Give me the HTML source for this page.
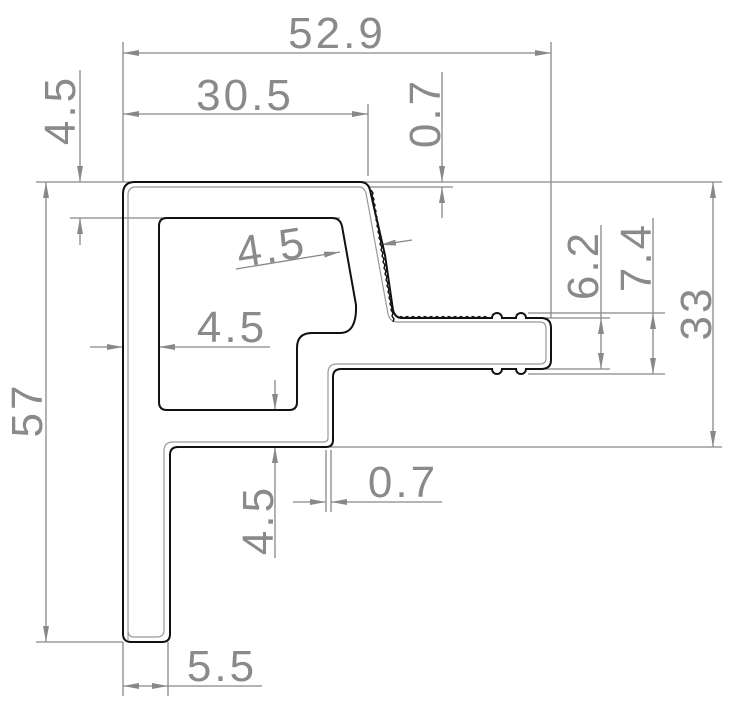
<!DOCTYPE html>
<html><head><meta charset="utf-8"><style>html,body{margin:0;padding:0;background:#fff}svg{display:block}</style></head>
<body>
<svg width="736" height="711" viewBox="0 0 736 711" xmlns="http://www.w3.org/2000/svg">
<defs>
<marker id="a" viewBox="0 0 16 6" refX="16" refY="3" markerWidth="16" markerHeight="6" markerUnits="userSpaceOnUse" orient="auto-start-reverse"><path d="M0,0 L16,3 L0,6 z" fill="#888"/></marker>
</defs>
<g stroke="#888" stroke-width="1.3" fill="none">
<line x1="123" y1="42" x2="123" y2="182"/>
<line x1="551" y1="42" x2="551" y2="318"/>
<line x1="368" y1="104" x2="368" y2="176"/>
<line x1="36" y1="182" x2="722" y2="182"/>
<line x1="70" y1="218" x2="340" y2="218"/>
<line x1="368" y1="187" x2="453" y2="187"/>
<line x1="36" y1="642" x2="123" y2="642"/>
<line x1="330" y1="447" x2="722" y2="447"/>
<line x1="528" y1="313" x2="665" y2="313"/>
<line x1="545" y1="318" x2="610" y2="318"/>
<line x1="545" y1="369" x2="610" y2="369"/>
<line x1="528" y1="374" x2="665" y2="374"/>
<line x1="123" y1="642" x2="123" y2="696"/>
<line x1="168" y1="642" x2="168" y2="696"/>
<line x1="326" y1="450" x2="326" y2="512"/>
<line x1="331" y1="450" x2="331" y2="512"/>
<line x1="123" y1="53" x2="551" y2="53" marker-start="url(#a)" marker-end="url(#a)"/>
<line x1="123" y1="114" x2="368" y2="114" marker-start="url(#a)" marker-end="url(#a)"/>
<line x1="80" y1="70" x2="80" y2="182" marker-end="url(#a)"/>
<line x1="80" y1="245" x2="80" y2="218" marker-end="url(#a)"/>
<line x1="442" y1="72" x2="442" y2="182" marker-end="url(#a)"/>
<line x1="442" y1="218" x2="442" y2="187" marker-end="url(#a)"/>
<line x1="46" y1="182" x2="46" y2="642" marker-start="url(#a)" marker-end="url(#a)"/>
<line x1="713" y1="182" x2="713" y2="447" marker-start="url(#a)" marker-end="url(#a)"/>
<line x1="601" y1="225" x2="601" y2="318"/>
<line x1="601" y1="318" x2="601" y2="369" marker-start="url(#a)" marker-end="url(#a)"/>
<line x1="653" y1="218" x2="653" y2="313"/>
<line x1="653" y1="313" x2="653" y2="374" marker-start="url(#a)" marker-end="url(#a)"/>
<line x1="90" y1="347" x2="123" y2="347" marker-end="url(#a)"/>
<line x1="270" y1="347" x2="159" y2="347" marker-end="url(#a)"/>
<line x1="236" y1="269" x2="340" y2="252" marker-end="url(#a)"/>
<line x1="412" y1="240" x2="380" y2="245" marker-end="url(#a)"/>
<line x1="275" y1="380" x2="275" y2="410" marker-end="url(#a)"/>
<line x1="275" y1="558" x2="275" y2="447" marker-end="url(#a)"/>
<line x1="293" y1="502" x2="326" y2="502" marker-end="url(#a)"/>
<line x1="442" y1="502" x2="331" y2="502" marker-end="url(#a)"/>
<line x1="123" y1="686" x2="168" y2="686" marker-start="url(#a)" marker-end="url(#a)"/>
<line x1="168" y1="686" x2="262" y2="686"/>
</g>
<g fill="none" stroke="#999" stroke-width="1.2">
<path d="M128,640 L128,195 Q128,187 136,187 L359,187 Q364,187 366,193 L388,314 Q390,322 398,322 L540,322 Q546,322 546,329 L546,358 Q546,364 540,364 L337,364 Q328,364 328,373 L328,438 Q328,442 323,442 L173,442 Q164,442 164,451 L164,630 Q164,637 157,637 L134,637 Q128,637 128,630 Z"/>
</g>
<g fill="none" stroke="#111" stroke-width="2">
<path d="M123,630 L123,194 Q123,182 135,182 L360,182 Q368,182 370,190 L385,255 L393,310 Q395,318 402,318 L492,318 A4,4 0 0 1 502,318 L516,318 A4,4 0 0 1 526,318 L541,318 Q551,318 551,328 L551,360 Q551,369 541,369 L526,369 A4,4 0 0 1 516,369 L502,369 A4,4 0 0 1 492,369 L341,369 Q333,369 333,377 L333,440 Q333,447 326,447 L178,447 Q170,447 170,455 L170,634 Q170,642 162,642 L131,642 Q123,642 123,634 Z"/>
<path d="M159,226 Q159,218 167,218 L332,218 Q340,218 342,226 L356,305 Q357,333 340,333 L312,333 Q297,333 297,348 L297,402 Q297,410 289,410 L167,410 Q159,410 159,402 Z"/>
</g>
<g fill="none" stroke="#111" stroke-width="1.4">
<path d="M371,190 l2,3 -1,3 2,3 -1,3 2,3 -1,3 2,3 -1,3 2,3 -1,3 2,3 -1,3 2,3 -1,3 2,3 -1,3 2,3 -1,3 2,3 -1,3 2,3 -1,3 2,3 -1,3 2,3 -1,3 2,3 -1,3 2,3 -1,3 2,3 -1,3 2,3 -1,3 2,3 -1,3 2,3 -1,3 2,3 -1,3 2,3 -1,3 2,3 -1,3"/>
<path d="M398,318 l3,-1.5 3,1.5 3,-1.5 3,1.5 3,-1.5 3,1.5 3,-1.5 3,1.5 3,-1.5 3,1.5 3,-1.5 3,1.5 3,-1.5 3,1.5 3,-1.5 3,1.5 3,-1.5 3,1.5 3,-1.5 3,1.5 3,-1.5 3,1.5 3,-1.5 3,1.5 3,-1.5 3,1.5 3,-1.5 3,1.5 3,-1.5 3,1.5"/>
</g>
<g fill="#8a8a8a" font-family="Liberation Sans, sans-serif" font-size="44" letter-spacing="3" text-anchor="middle">
<text x="337" y="48">52.9</text>
<text x="245" y="110">30.5</text>
<text transform="translate(75,110) rotate(-90)">4.5</text>
<text transform="translate(440,113) rotate(-90)">0.7</text>
<text transform="translate(42,410) rotate(-90)">57</text>
<text transform="translate(711,313) rotate(-90)">33</text>
<text transform="translate(598,265) rotate(-90)">6.2</text>
<text transform="translate(651,257) rotate(-90)">7.4</text>
<text transform="translate(273,520) rotate(-90)">4.5</text>
<text transform="translate(274,262) rotate(-9)">4.5</text>
<text x="232" y="342">4.5</text>
<text x="403" y="497">0.7</text>
<text x="222" y="681">5.5</text>
</g>
</svg>
</body></html>
